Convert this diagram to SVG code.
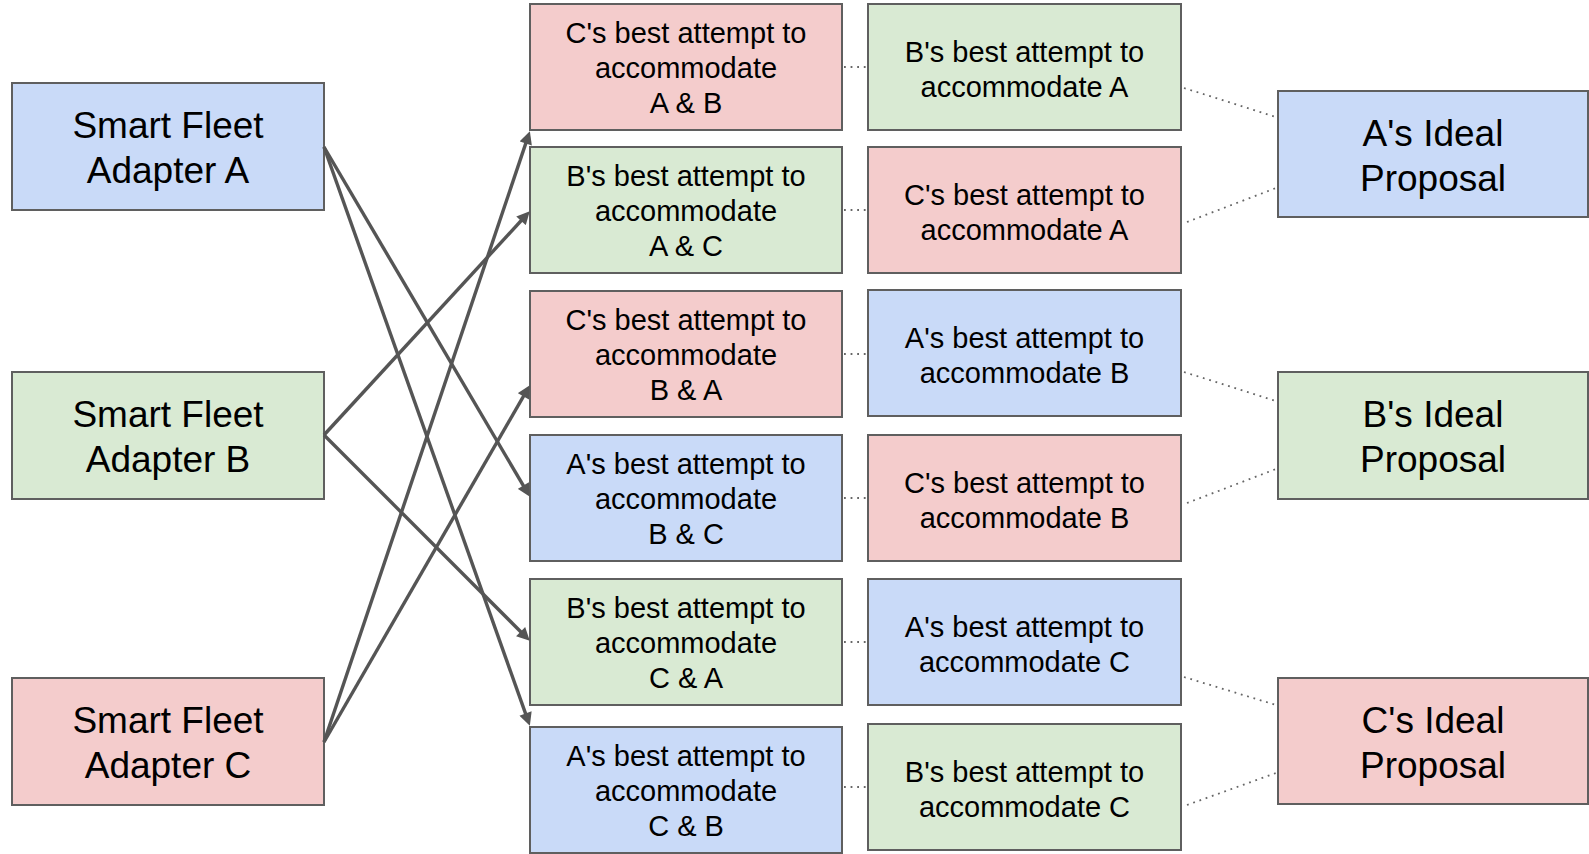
<svg xmlns="http://www.w3.org/2000/svg" width="1589" height="854" viewBox="0 0 1589 854">
  <style>
    .box { stroke: #5f5f5f; stroke-width: 2; }
    .a { fill: #c9daf8; }
    .b { fill: #d9ead3; }
    .c { fill: #f4cccc; }
    text { font-family: "Liberation Sans", Arial, sans-serif; fill: #000; text-anchor: middle; }
    .big { font-size: 37px; }
    .mid { font-size: 29px; }
    .arrow { stroke: #555555; stroke-width: 3.4; fill: none; marker-end: url(#head); }
    .dot { stroke: #666666; stroke-width: 1.8; fill: none; stroke-dasharray: 1.8 4.8; }
  </style>
  <defs>
    <marker id="head" viewBox="0 0 10 10" refX="5" refY="5" markerWidth="4.2" markerHeight="3.8" orient="auto" markerUnits="strokeWidth">
      <path d="M0,0 L10,5 L0,10 z" fill="#555555"/>
    </marker>
  </defs>

  <rect width="1589" height="854" fill="#ffffff"/>

  <!-- adapters -->
  <g id="adapter-a">
    <rect class="box a" x="12" y="83" width="312" height="127"/>
    <text class="big" x="168" y="138">Smart Fleet</text>
    <text class="big" x="168" y="183">Adapter A</text>
  </g>
  <g id="adapter-b">
    <rect class="box b" x="12" y="372" width="312" height="127"/>
    <text class="big" x="168" y="427">Smart Fleet</text>
    <text class="big" x="168" y="472">Adapter B</text>
  </g>
  <g id="adapter-c">
    <rect class="box c" x="12" y="678" width="312" height="127"/>
    <text class="big" x="168" y="733">Smart Fleet</text>
    <text class="big" x="168" y="778">Adapter C</text>
  </g>

  <!-- two-party attempts -->
  <g id="c-ab">
    <rect class="box c" x="530" y="4" width="312" height="126"/>
    <text class="mid" x="686" y="43">C's best attempt to</text>
    <text class="mid" x="686" y="78">accommodate</text>
    <text class="mid" x="686" y="112.5">A &amp; B</text>
  </g>
  <g id="b-ac">
    <rect class="box b" x="530" y="147" width="312" height="126"/>
    <text class="mid" x="686" y="186">B's best attempt to</text>
    <text class="mid" x="686" y="221">accommodate</text>
    <text class="mid" x="686" y="255.5">A &amp; C</text>
  </g>
  <g id="c-ba">
    <rect class="box c" x="530" y="291" width="312" height="126"/>
    <text class="mid" x="686" y="330">C's best attempt to</text>
    <text class="mid" x="686" y="365">accommodate</text>
    <text class="mid" x="686" y="399.5">B &amp; A</text>
  </g>
  <g id="a-bc">
    <rect class="box a" x="530" y="435" width="312" height="126"/>
    <text class="mid" x="686" y="474">A's best attempt to</text>
    <text class="mid" x="686" y="509">accommodate</text>
    <text class="mid" x="686" y="543.5">B &amp; C</text>
  </g>
  <g id="b-ca">
    <rect class="box b" x="530" y="579" width="312" height="126"/>
    <text class="mid" x="686" y="618">B's best attempt to</text>
    <text class="mid" x="686" y="653">accommodate</text>
    <text class="mid" x="686" y="687.5">C &amp; A</text>
  </g>
  <g id="a-cb">
    <rect class="box a" x="530" y="727" width="312" height="126"/>
    <text class="mid" x="686" y="766">A's best attempt to</text>
    <text class="mid" x="686" y="801">accommodate</text>
    <text class="mid" x="686" y="835.5">C &amp; B</text>
  </g>

  <!-- single-party attempts -->
  <g id="b-a">
    <rect class="box b" x="868" y="4" width="313" height="126"/>
    <text class="mid" x="1024.5" y="61.5">B's best attempt to</text>
    <text class="mid" x="1024.5" y="96.5">accommodate A</text>
  </g>
  <g id="c-a">
    <rect class="box c" x="868" y="147" width="313" height="126"/>
    <text class="mid" x="1024.5" y="204.5">C's best attempt to</text>
    <text class="mid" x="1024.5" y="239.5">accommodate A</text>
  </g>
  <g id="a-b">
    <rect class="box a" x="868" y="290" width="313" height="126"/>
    <text class="mid" x="1024.5" y="347.5">A's best attempt to</text>
    <text class="mid" x="1024.5" y="382.5">accommodate B</text>
  </g>
  <g id="c-b">
    <rect class="box c" x="868" y="435" width="313" height="126"/>
    <text class="mid" x="1024.5" y="492.5">C's best attempt to</text>
    <text class="mid" x="1024.5" y="527.5">accommodate B</text>
  </g>
  <g id="a-c">
    <rect class="box a" x="868" y="579" width="313" height="126"/>
    <text class="mid" x="1024.5" y="636.5">A's best attempt to</text>
    <text class="mid" x="1024.5" y="671.5">accommodate C</text>
  </g>
  <g id="b-c">
    <rect class="box b" x="868" y="724" width="313" height="126"/>
    <text class="mid" x="1024.5" y="781.5">B's best attempt to</text>
    <text class="mid" x="1024.5" y="816.5">accommodate C</text>
  </g>

  <!-- ideal proposals -->
  <g id="ideal-a">
    <rect class="box a" x="1278" y="91" width="310" height="126"/>
    <text class="big" x="1433" y="146">A's Ideal</text>
    <text class="big" x="1433" y="191">Proposal</text>
  </g>
  <g id="ideal-b">
    <rect class="box b" x="1278" y="372" width="310" height="127"/>
    <text class="big" x="1433" y="427">B's Ideal</text>
    <text class="big" x="1433" y="472">Proposal</text>
  </g>
  <g id="ideal-c">
    <rect class="box c" x="1278" y="678" width="310" height="126"/>
    <text class="big" x="1433" y="733">C's Ideal</text>
    <text class="big" x="1433" y="778">Proposal</text>
  </g>

  <!-- connectors -->
  <g id="connectors">
    <line class="arrow" x1="324" y1="147" x2="526.6" y2="491.2"/>
    <line class="arrow" x1="324" y1="147" x2="527.7" y2="719.6"/>
    <line class="arrow" x1="324" y1="435" x2="525.4" y2="216.0"/>
    <line class="arrow" x1="324" y1="435" x2="525.2" y2="636.2"/>
    <line class="arrow" x1="324" y1="742" x2="527.8" y2="137.4"/>
    <line class="arrow" x1="324" y1="742" x2="526.6" y2="390.8"/>

    <line class="dot" x1="844" y1="67" x2="867" y2="67"/>
    <line class="dot" x1="844" y1="210" x2="867" y2="210"/>
    <line class="dot" x1="844" y1="354" x2="867" y2="354"/>
    <line class="dot" x1="844" y1="498" x2="867" y2="498"/>
    <line class="dot" x1="844" y1="642" x2="867" y2="642"/>
    <line class="dot" x1="844" y1="787" x2="867" y2="787"/>

    <line class="dot" x1="1184" y1="88" x2="1276" y2="117"/>
    <line class="dot" x1="1187" y1="222" x2="1276" y2="188"/>
    <line class="dot" x1="1184" y1="372" x2="1276" y2="401"/>
    <line class="dot" x1="1187" y1="503" x2="1276" y2="469"/>
    <line class="dot" x1="1184" y1="677" x2="1276" y2="705"/>
    <line class="dot" x1="1187" y1="805" x2="1276" y2="773"/>
  </g>
</svg>
